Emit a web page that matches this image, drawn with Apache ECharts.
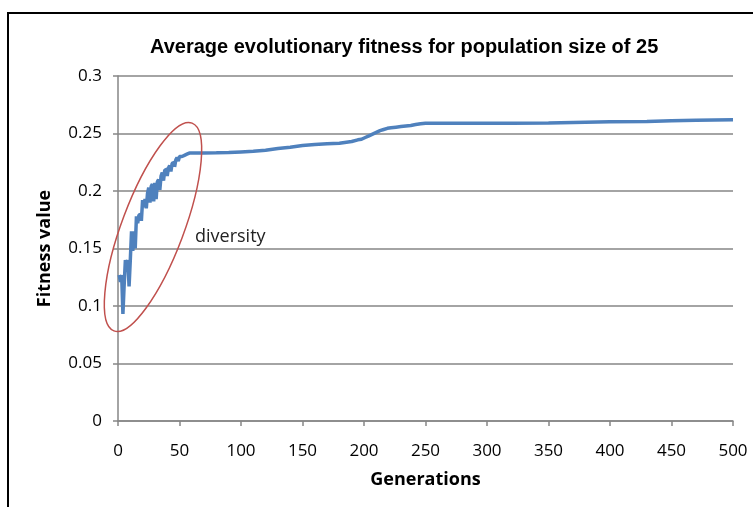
<!DOCTYPE html>
<html>
<head>
<meta charset="utf-8">
<script src="https://cdn.jsdelivr.net/npm/echarts@6/dist/echarts.min.js"></script>
<style>
  html, body { margin: 0; padding: 0; background: #fff; }
  #chart { width: 753px; height: 507px; }
</style>
</head>
<body>
<div id="chart"></div>
<script>
// generations (x) and average fitness (y)
var generations = [
  1, 2, 3, 4, 5, 6, 7, 8, 9, 10,
  11, 12, 13, 14, 15, 16, 17, 18, 19, 20,
  21, 22, 23, 24, 25, 26, 27, 28, 29, 30,
  31, 32, 33, 34, 35, 36, 37, 38, 39, 40,
  41, 42, 43, 44, 45, 46, 47, 48, 49, 50,
  52, 54, 56, 58, 60, 70, 80, 90, 100, 110,
  120, 130, 140, 150, 160, 170, 180, 190, 195, 198,
  201, 204, 207, 210, 213, 216, 219, 222, 226, 230,
  234, 238, 242, 246, 250, 300, 320, 350, 380, 400,
  430, 450, 470, 500
];
var fitness = [
  0.127, 0.121, 0.127, 0.093, 0.118, 0.140, 0.130, 0.140, 0.117, 0.140,
  0.165, 0.148, 0.165, 0.150, 0.178, 0.172, 0.179, 0.180, 0.174, 0.192,
  0.186, 0.193, 0.185, 0.198, 0.203, 0.190, 0.204, 0.206, 0.191, 0.207,
  0.193, 0.208, 0.210, 0.201, 0.213, 0.216, 0.209, 0.218, 0.219, 0.213,
  0.220, 0.222, 0.217, 0.224, 0.225, 0.221, 0.227, 0.229, 0.226, 0.230,
  0.231, 0.232, 0.233, 0.233, 0.233, 0.2332, 0.2335, 0.234, 0.2345, 0.2355,
  0.237, 0.238, 0.2395, 0.2405, 0.241, 0.2415, 0.243, 0.2445, 0.245, 0.2465,
  0.248, 0.2495, 0.251, 0.2525, 0.2535, 0.2545, 0.255, 0.2555, 0.256, 0.2565,
  0.257, 0.2578, 0.2585, 0.259, 0.259, 0.259, 0.2592, 0.2598, 0.2602, 0.2605,
  0.261, 0.2615, 0.262, 0.2625
];

var chart = echarts.init(document.getElementById('chart'));

var points = generations.map(function (g, i) {
  return [g, fitness[i]];
});

var option = {
  animation: false,
  title: {
    text: 'Average evolutionary fitness for population size of 25',
    left: 145,
    top: 32,
    textStyle: {
      fontFamily: 'Liberation Sans',
      fontSize: 20,
      fontWeight: 'bold',
      color: '#000'
    }
  },
  grid: {
    left: 118,
    right: 20,
    top: 76,
    bottom: 86
  },
  xAxis: {
    type: 'value',
    min: 0,
    max: 500,
    interval: 50,
    name: 'Generations',
    nameLocation: 'middle',
    nameGap: 50,
    nameTextStyle: {
      fontFamily: 'Open Sans',
      fontSize: 18,
      fontWeight: 'bold',
      color: '#000'
    },
    axisLine: { lineStyle: { color: '#868686', width: 1.5 } },
    axisTick: { show: true, length: 5, lineStyle: { color: '#868686', width: 1.5 } },
    axisLabel: {
      margin: 22,
      fontFamily: 'Open Sans',
      fontSize: 17,
      color: '#000'
    },
    splitLine: { show: false }
  },
  yAxis: {
    type: 'value',
    min: 0,
    max: 0.3,
    interval: 0.05,
    name: 'Fitness value',
    nameLocation: 'middle',
    nameGap: 64,
    nameTextStyle: {
      fontFamily: 'Open Sans',
      fontSize: 18,
      fontWeight: 'bold',
      color: '#000'
    },
    axisLine: { show: true, lineStyle: { color: '#868686', width: 1.5 } },
    axisTick: { show: true, length: 5, lineStyle: { color: '#868686', width: 1.5 } },
    axisLabel: {
      margin: 16,
      fontFamily: 'Open Sans',
      fontSize: 17,
      color: '#000',
      formatter: function (v) {
        return String(Math.round(v * 100) / 100);
      }
    },
    splitLine: { lineStyle: { color: '#868686', width: 1.5 } }
  },
  series: [{
    type: 'line',
    step: 'end',
    data: points,
    showSymbol: false,
    lineStyle: { color: '#4F81BD', width: 3.5 }
  }],
  graphic: [
    // outer chart border (cut off at right/bottom like the picture)
    {
      type: 'rect',
      shape: { x: 8, y: 13, width: 780, height: 540 },
      style: { fill: 'none', stroke: '#000', lineWidth: 2 },
      silent: true
    },
    // red ellipse around the early part
    {
      type: 'ellipse',
      x: 153,
      y: 227,
      rotation: 69.4 * Math.PI / 180,
      shape: { cx: 0, cy: 0, rx: 111, ry: 31 },
      style: { fill: 'none', stroke: '#C0504D', lineWidth: 1.5 },
      z: 10
    },
    {
      type: 'text',
      left: 195,
      top: 228,
      style: {
        text: 'diversity',
        font: '18px "Open Sans"',
        fill: '#222'
      },
      z: 10
    }
  ]
};
chart.setOption(option);
</script>
</body>
</html>
